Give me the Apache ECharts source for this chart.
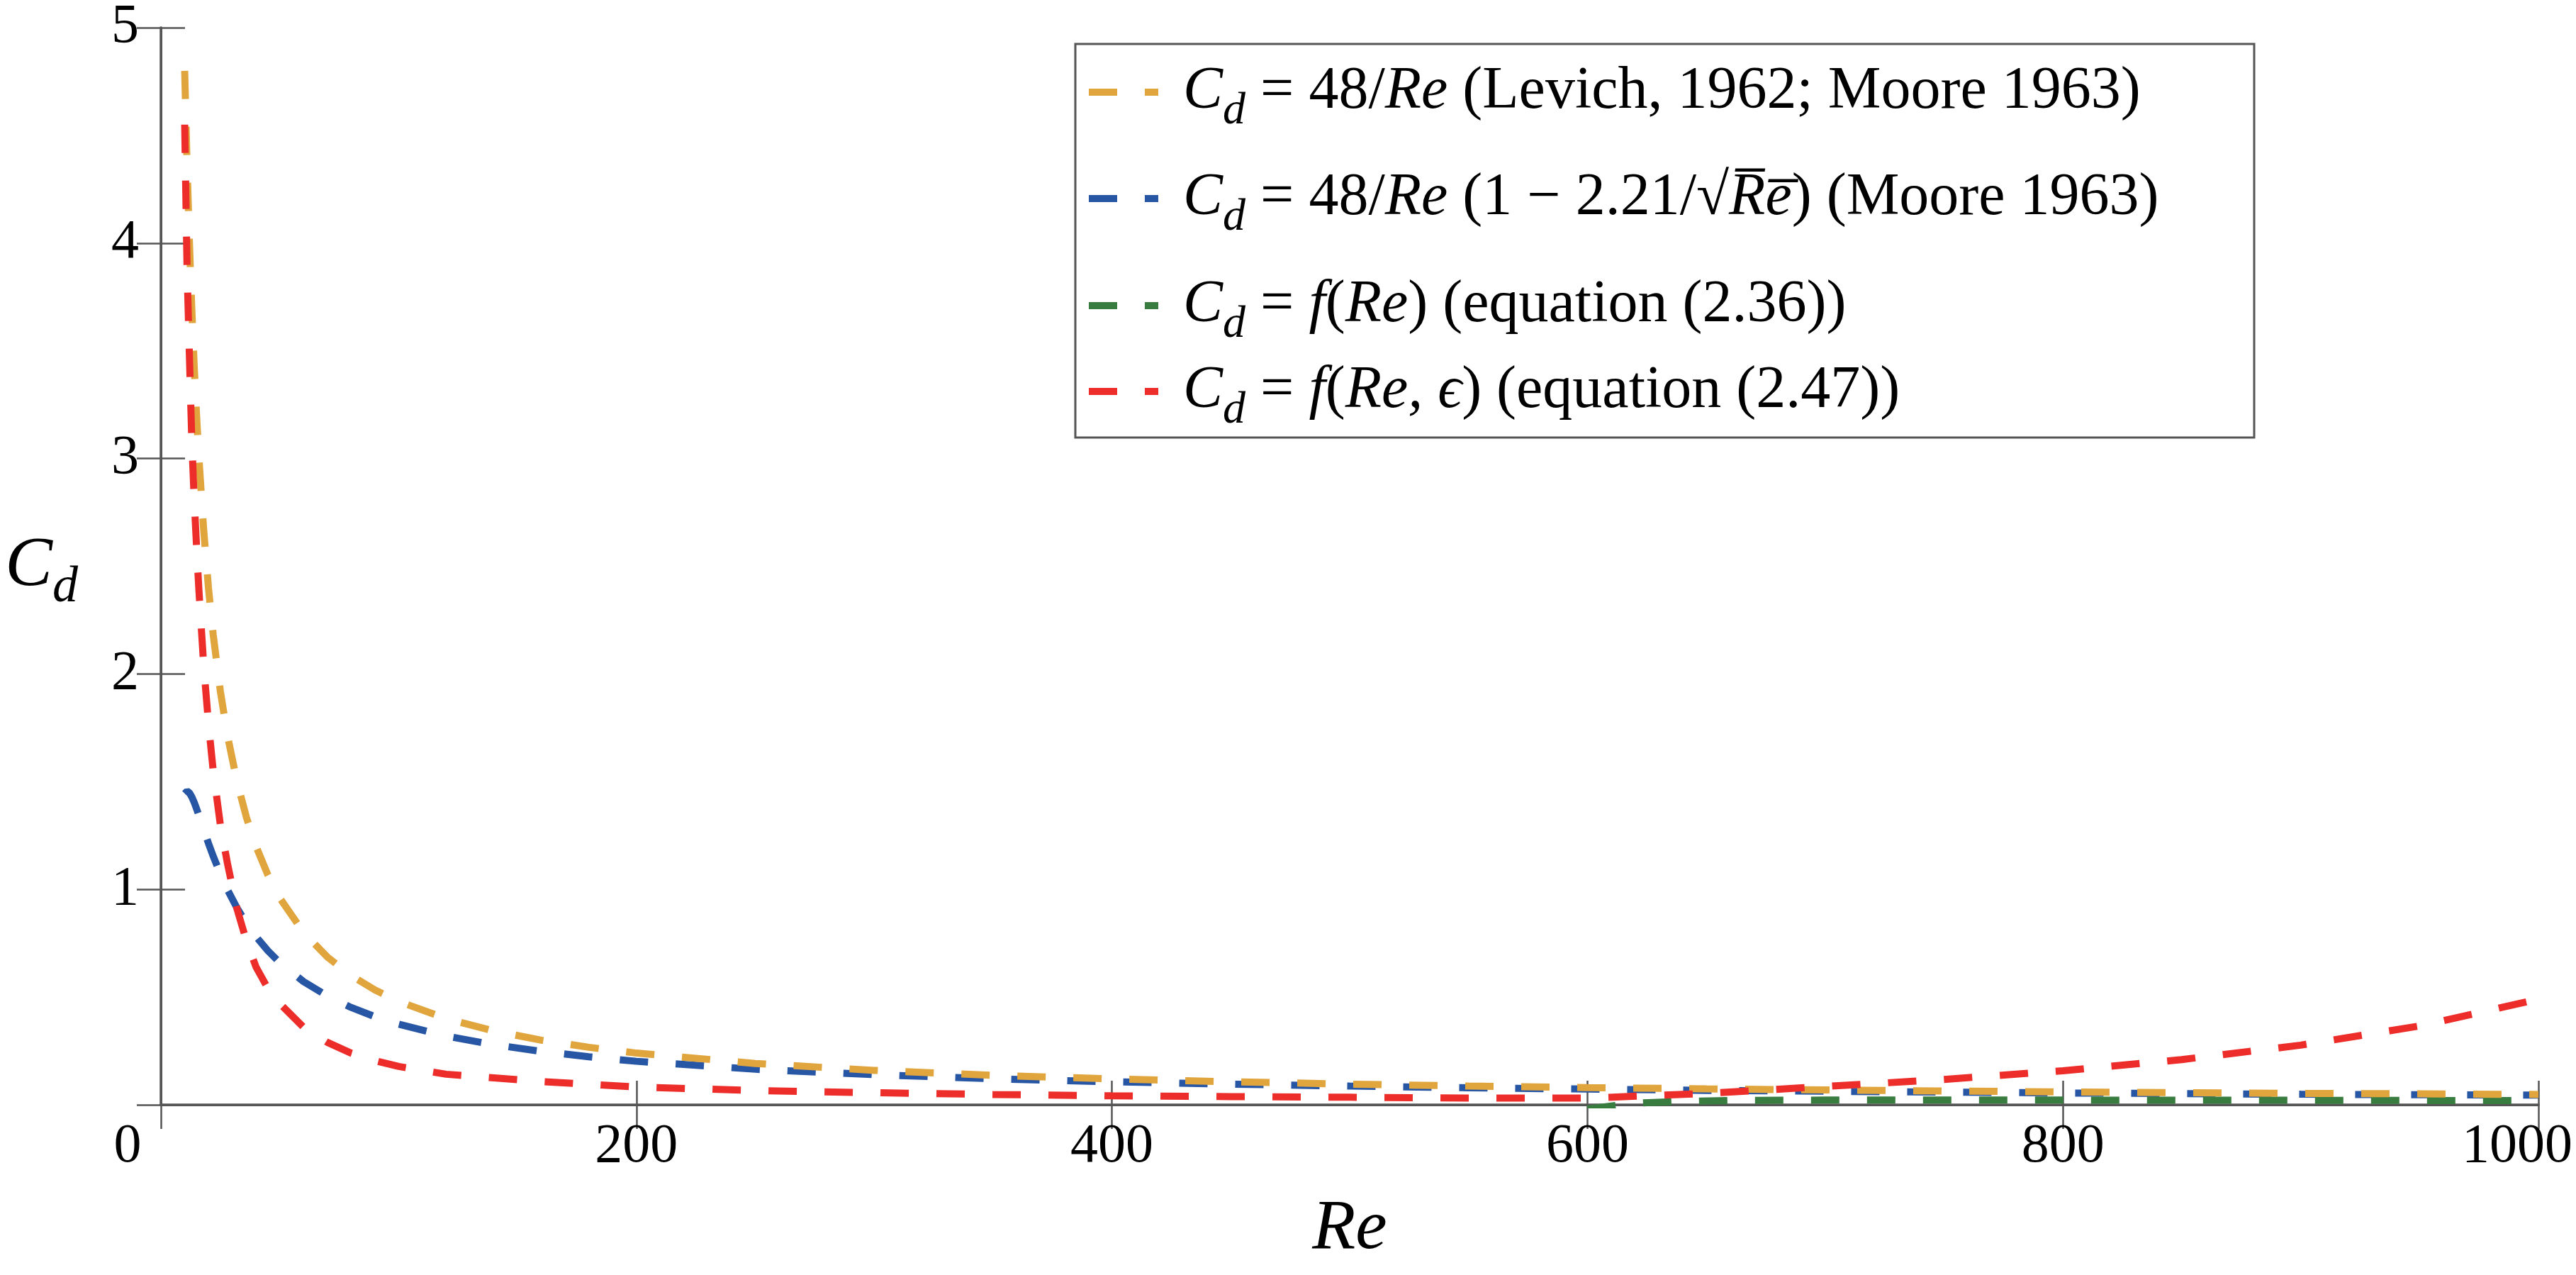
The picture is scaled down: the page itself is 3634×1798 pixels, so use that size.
<!DOCTYPE html>
<html>
<head>
<meta charset="utf-8">
<title>Cd vs Re</title>
<script src="https://cdn.jsdelivr.net/npm/echarts@6/dist/echarts.min.js"></script>
<style>
  html, body { margin: 0; padding: 0; background: #fff; }
  #chart { width: 3634px; height: 1798px; }
</style>
</head>
<body>
<div id="chart"></div>
<script>
// Re 取值（横轴）
var reGrid = [10, 11, 12, 13, 14, 15, 16, 18, 20, 22, 25, 28, 32, 36, 40, 45, 50, 60, 70, 80, 90, 100,
    120, 140, 160, 180, 200, 250, 300, 350, 400, 450, 500, 550, 600, 650, 700, 750, 800, 850, 900, 950, 1000];

// 橙色: Cd = 48/Re
var cdLevich = [4.8, 4.364, 4.0, 3.692, 3.429, 3.2, 3.0, 2.667, 2.4, 2.182, 1.92, 1.714, 1.5, 1.333, 1.2, 1.067, 0.96,
    0.8, 0.686, 0.6, 0.533, 0.48, 0.4, 0.343, 0.3, 0.267, 0.24, 0.192, 0.16, 0.137, 0.12, 0.107, 0.096, 0.087,
    0.08, 0.074, 0.069, 0.064, 0.06, 0.056, 0.053, 0.051, 0.048];

// 蓝色: Moore 1963
var cdMoore = [1.445, 1.456, 1.448, 1.429, 1.404, 1.374, 1.343, 1.278, 1.214, 1.154, 1.071, 0.998, 0.914, 0.842,
    0.781, 0.715, 0.66, 0.572, 0.505, 0.452, 0.409, 0.374, 0.319, 0.279, 0.248, 0.223, 0.202, 0.165, 0.14, 0.121,
    0.107, 0.096, 0.087, 0.079, 0.073, 0.067, 0.063, 0.059, 0.055, 0.052, 0.049, 0.047, 0.045];

// 红色: f(Re, eps)
var cdEps = [4.55, 3.88, 3.47, 3.08, 2.81, 2.59, 2.385, 2.04, 1.77, 1.55, 1.30, 1.12, 0.91, 0.76, 0.64, 0.54, 0.47,
    0.36, 0.29, 0.24, 0.205, 0.178, 0.142, 0.125, 0.108, 0.095, 0.083, 0.066, 0.056, 0.048, 0.042, 0.038, 0.035,
    0.031, 0.031, 0.053, 0.085, 0.118, 0.158, 0.21, 0.277, 0.366, 0.49];

// 绿色: f(Re)，只在 600 以后露出横轴
var reGreen = [600, 620, 640, 660, 700, 750, 800, 850, 900, 950, 1000];
var cdGreen = [-0.02, 0.008, 0.016, 0.02, 0.022, 0.022, 0.022, 0.021, 0.021, 0.02, 0.02];

var xTicks = [0, 200, 400, 600, 800, 1000];
var yTicks = [0, 1, 2, 3, 4, 5];

function pairs(xs, ys) {
    return xs.map(function (x, i) { return [x, ys[i]]; });
}

var serif = 'Liberation Serif';
var dash = [40, 39];

// 图例文字（带下标、斜体）
var legendText = {
    levich: '{c|C}{s|d}{n| = 48/}{i|Re}{n| (Levich, 1962; Moore 1963)}',
    moore: '{c|C}{s|d}{n| = 48/}{i|Re}{n| (1 \u2212 2.21/\u221A}{i|R\u0305e\u0305}{n|) (Moore 1963)}',
    fre: '{c|C}{s|d}{n| = }{i|f}{n|(}{i|Re}{n|) (equation (2.36))}',
    feps: '{c|C}{s|d}{n| = }{i|f}{n|(}{i|Re, \u03F5}{n|) (equation (2.47))}'
};

var legendRich = {
    n: { fontFamily: serif, fontSize: 84, color: '#000' },
    i: { fontFamily: serif, fontSize: 84, fontStyle: 'italic', color: '#000' },
    c: { fontFamily: serif, fontSize: 84, fontStyle: 'italic', color: '#000', padding: [0, 0, 0, 30] },
    s: { fontFamily: serif, fontSize: 64, fontStyle: 'italic', color: '#000', padding: [55, 0, 0, 0] }
};

function makeLegend(name, top) {
    return {
        data: [name],
        left: 1531,
        top: top,
        orient: 'vertical',
        padding: 0,
        itemWidth: 98,
        itemHeight: 12,
        selectedMode: false,
        lineStyle: { width: 10 },
        itemStyle: { opacity: 0 },
        formatter: function (n) { return legendText[n]; },
        textStyle: { rich: legendRich }
    };
}

var axisColor = '#555555';

var myChart = echarts.init(document.getElementById('chart'));

var option = {
    animation: false,
    backgroundColor: '#ffffff',
    grid: { left: 227, right: 53, top: 32, bottom: 240 },
    xAxis: [{
        type: 'value',
        min: xTicks[0],
        max: xTicks[xTicks.length - 1],
        interval: 200,
        name: 'Re',
        nameLocation: 'middle',
        nameGap: 126,
        nameTextStyle: { fontFamily: serif, fontSize: 100, fontStyle: 'italic', color: '#000' },
        axisLine: { show: true, lineStyle: { color: axisColor, width: 3.5 } },
        axisTick: { show: true, inside: true, length: 34, lineStyle: { color: axisColor, width: 2.5 } },
        splitLine: { show: false },
        axisLabel: {
            margin: 21,
            fontFamily: serif,
            fontSize: 78,
            color: '#000',
            formatter: function (v) {
                if (v === 0) return '{z|0}';
                if (v === 1000) return '{m|1000}';
                return String(v);
            },
            rich: {
                z: { fontFamily: serif, fontSize: 78, color: '#000', padding: [0, 94, 0, 0] },
                m: { fontFamily: serif, fontSize: 78, color: '#000', padding: [0, 60, 0, 0] }
            }
        }
    }, {
        type: 'value',
        position: 'top',
        min: 0,
        max: 1000,
        interval: 200,
        axisLine: { show: true, lineStyle: { color: axisColor, width: 3 } },
        axisTick: { show: true, inside: true, length: 34, lineStyle: { color: axisColor, width: 2.5 } },
        axisLabel: { show: false },
        splitLine: { show: false }
    }],
    yAxis: [{
        type: 'value',
        min: yTicks[0],
        max: yTicks[yTicks.length - 1],
        interval: 1,
        name: '{c|C}{d|d}',
        nameLocation: 'middle',
        nameRotate: 0,
        nameGap: 117,
        nameTextStyle: {
            rich: {
                c: { fontFamily: serif, fontSize: 100, fontStyle: 'italic', color: '#000' },
                d: { fontFamily: serif, fontSize: 72, fontStyle: 'italic', color: '#000', padding: [62, 0, 0, 0] }
            }
        },
        axisLine: { show: true, lineStyle: { color: axisColor, width: 3.5 } },
        axisTick: { show: true, inside: true, length: 34, lineStyle: { color: axisColor, width: 2.5 } },
        splitLine: { show: false },
        axisLabel: {
            showMinLabel: false,
            margin: 31,
            fontFamily: serif,
            fontSize: 78,
            color: '#000'
        }
    }, {
        type: 'value',
        position: 'right',
        min: 0,
        max: 5,
        interval: 1,
        axisLine: { show: true, lineStyle: { color: axisColor, width: 3 } },
        axisTick: { show: true, inside: true, length: 34, lineStyle: { color: axisColor, width: 2.5 } },
        axisLabel: { show: false },
        splitLine: { show: false }
    }],
    legend: [
        makeLegend('levich', 88),
        makeLegend('moore', 238),
        makeLegend('fre', 389),
        makeLegend('feps', 510)
    ],
    graphic: [{
        type: 'rect',
        z: 3,
        shape: { x: 1517, y: 62, width: 1663, height: 555 },
        style: { fill: '#fff', stroke: axisColor, lineWidth: 3 }
    }],
    series: [
        {
            name: 'moore', type: 'line', symbol: 'none', data: pairs(reGrid, cdMoore),
            lineStyle: { color: '#2756A5', width: 10, type: dash }, itemStyle: { color: '#2756A5' }
        },
        {
            name: 'fre', type: 'line', symbol: 'none', data: pairs(reGreen, cdGreen),
            lineStyle: { color: '#387C3F', width: 10, type: dash }, itemStyle: { color: '#387C3F' }
        },
        {
            name: 'levich', type: 'line', symbol: 'none', data: pairs(reGrid, cdLevich),
            lineStyle: { color: '#E1A53D', width: 10, type: dash }, itemStyle: { color: '#E1A53D' }
        },
        {
            name: 'feps', type: 'line', symbol: 'none', data: pairs(reGrid, cdEps),
            lineStyle: { color: '#ED2D2A', width: 10, type: dash }, itemStyle: { color: '#ED2D2A' }
        }
    ]
};

myChart.setOption(option);
</script>
</body>
</html>
